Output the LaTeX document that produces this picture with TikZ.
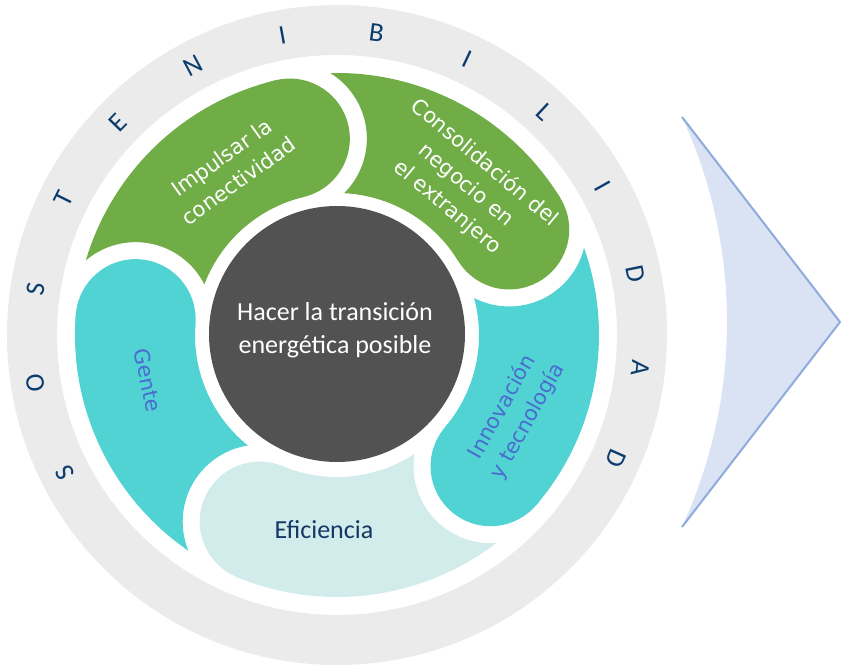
\documentclass[tikz,border=0pt]{standalone}
\usepackage{fontspec}
\setmainfont{Carlito}
\newfontfamily\petalfont{DejaVu Sans}
\usepackage{tikz}
\definecolor{ringgray}{HTML}{EBEBEB}
\definecolor{letterblue}{RGB}{10,60,110}
\definecolor{petalgreen}{HTML}{70AD47}
\definecolor{petalcyan}{RGB}{81,210,211}
\definecolor{petallight}{RGB}{210,236,236}
\definecolor{coredark}{HTML}{525252}
\definecolor{labelblue}{RGB}{74,108,206}
\definecolor{efblue}{RGB}{20,55,100}
\definecolor{arrowfill}{HTML}{DAE3F3}
\definecolor{arrowline}{HTML}{8FAADC}

\begin{document}
\begin{tikzpicture}[x=1pt,y=1pt,
    ringletter/.style={text=letterblue, inner sep=0pt, font=\fontsize{27}{27}\selectfont},
    petallabel/.style={align=center, inner sep=0pt, font=\petalfont\fontsize{21}{29}\selectfont},
    corelabel/.style={align=center, inner sep=0pt, text=white, font=\fontsize{26}{33}\selectfont}]
    \useasboundingbox (-337,-334) rectangle (504,335);

    % Outer gray ring
    \fill[ringgray, even odd rule] (0,0) circle[radius=330] (0,0) circle[radius=280];

    % Letters around the ring
    \foreach \ltr [count=\k from 0] in {S,O,S,T,E,N,I,B,I,L,I,D,A,D}{
        \node[ringletter, rotate=206.8-17.75*\k-90] (letter-\k) at ({206.8-17.75*\k}:305) {\ltr};
    }

    % Petals: sector up to the cap, minus the gap round the previous cap
    \foreach \cap/\prev/\col in {103.5/175.5/petalgreen, 31.5/103.5/petalgreen,
        -40.5/31.5/petalcyan, -112.5/-40.5/petallight, -184.5/-112.5/petalcyan}{
        \begin{scope}[even odd rule]
            \clip (-337,-334) rectangle (504,335) (\prev:202) circle[radius=77];
            \fill[\col] (\prev:262) arc[start angle=\prev, end angle=\cap, radius=262]
                -- (\cap:142) arc[start angle=\cap, end angle=\prev, radius=142] -- cycle;
            \fill[\col] (\cap:202) circle[radius=60];
        \end{scope}
    }

    % Center circle
    \fill[coredark] (0,1) circle[radius=128];
    \node[corelabel] (core) at (-2,5) {Hacer la transición\\energética posible};

    % Petal labels
    \node[petallabel, text=white, rotate=35.5] (impulsar) at (-107,166) {Impulsar la\\conectividad};
    \node[petallabel, text=white, rotate=-40] (consolidacion) at (129,150) {Consolidación del\\negocio en\\el extranjero};
    \node[petallabel, text=labelblue, rotate=61] (innovacion) at (178,-79) {Innovación\\y tecnología};
    \node[corelabel, text=efblue] (eficiencia) at (-13,-195) {Eficiencia};
    \node[petallabel, text=labelblue, rotate=-78] (gente) at (-189,-45) {Gente};

    % Chevron arrow on the right
    \coordinate (arrow top) at (345,218);
    \coordinate (arrow tip) at (503,13);
    \coordinate (arrow bottom) at (345,-192);
    \fill[arrowfill] (arrow top) -- (arrow tip) -- (arrow bottom)
        arc[start angle=-24.77, end angle=24.77, radius=489.4] -- cycle;
    \draw[arrowline, line width=2, line join=miter] (arrow top) -- (arrow tip) -- (arrow bottom);

\end{tikzpicture}
\end{document}
